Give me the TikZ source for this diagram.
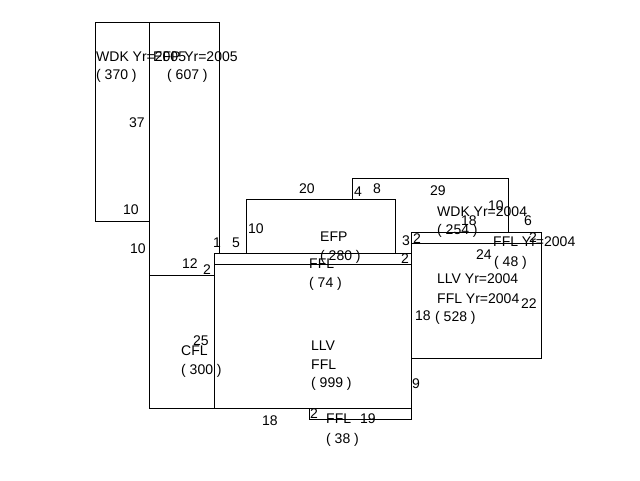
\documentclass[tikz,border=0pt]{standalone}
\usepackage{fontspec}
\setmainfont{Liberation Sans}
\begin{document}
\begin{tikzpicture}[x=1pt,y=-1pt,
  lbl/.style={anchor=base west, inner sep=0pt, font=\fontsize{14}{16}\selectfont},
  edge/.style={line width=1pt, line cap=rect, draw=black}]
\useasboundingbox (0,0) rectangle (640,480);
% panel outlines
\draw[edge] (95,22) rectangle (149,221);
\draw[edge] (149,22) -- (219,22) -- (219,253);
\draw[edge] (149,221) -- (149,408) -- (411,408);
\draw[edge] (149,275) -- (214,275);
\draw[edge] (214,253) -- (214,408);
\draw[edge] (214,253) -- (411,253);
\draw[edge] (214,264) -- (411,264);
\draw[edge] (246,253) -- (246,199) -- (395,199) -- (395,253);
\draw[edge] (352,199) -- (352,178) -- (508,178) -- (508,232);
\draw[edge] (411,232) -- (411,419) -- (309,419) -- (309,408);
\draw[edge] (411,232) -- (541,232) -- (541,358) -- (411,358);
\draw[edge] (411,243) -- (541,243);
% labels
\node[lbl] (t1) at (96,61) {WDK Yr=2005};
\node[lbl] (t2) at (96,79) {( 370 )};
\node[lbl] (t3) at (153,61) {EFP Yr=2005};
\node[lbl] (t4) at (167,79) {( 607 )};
\node[lbl] (t5) at (129,127) {37};
\node[lbl] (t6) at (123,214) {10};
\node[lbl] (t7) at (130,253) {10};
\node[lbl] (t8) at (182,268) {12};
\node[lbl] (t9) at (203,274) {2};
\node[lbl] (t10) at (213,247) {1};
\node[lbl] (t11) at (232,247) {5};
\node[lbl] (t12) at (248,233) {10};
\node[lbl] (t13) at (299,193) {20};
\node[lbl] (t14) at (354,196) {4};
\node[lbl] (t15) at (373,193) {8};
\node[lbl] (t16) at (430,195) {29};
\node[lbl] (t17) at (437,216) {WDK Yr=2004};
\node[lbl] (t18) at (437,234) {( 254 )};
\node[lbl] (t19) at (488,210) {10};
\node[lbl] (t20) at (461,225) {18};
\node[lbl] (t21) at (524,225) {6};
\node[lbl] (t22) at (320,241) {EFP};
\node[lbl] (t23) at (320,260) {( 280 )};
\node[lbl] (t24) at (309,268) {FFL};
\node[lbl] (t25) at (309,287) {( 74 )};
\node[lbl] (t26) at (402,245) {3};
\node[lbl] (t27) at (413,243) {2};
\node[lbl] (t28) at (401,263) {2};
\node[lbl] (t29) at (529,242) {2};
\node[lbl] (t30) at (493,246) {FFL Yr=2004};
\node[lbl] (t31) at (476,259) {24};
\node[lbl] (t32) at (494,266) {( 48 )};
\node[lbl] (t33) at (437,283) {LLV Yr=2004};
\node[lbl] (t34) at (437,303) {FFL Yr=2004};
\node[lbl] (t35) at (521,308) {22};
\node[lbl] (t36) at (415,320) {18};
\node[lbl] (t37) at (435,321) {( 528 )};
\node[lbl] (t38) at (193,345) {25};
\node[lbl] (t39) at (181,355) {CFL};
\node[lbl] (t40) at (181,374) {( 300 )};
\node[lbl] (t41) at (311,350) {LLV};
\node[lbl] (t42) at (311,369) {FFL};
\node[lbl] (t43) at (311,387) {( 999 )};
\node[lbl] (t44) at (412,388) {9};
\node[lbl] (t45) at (262,425) {18};
\node[lbl] (t46) at (310,418) {2};
\node[lbl] (t47) at (326,423) {FFL};
\node[lbl] (t48) at (360,423) {19};
\node[lbl] (t49) at (326,443) {( 38 )};
\end{tikzpicture}
\end{document}
